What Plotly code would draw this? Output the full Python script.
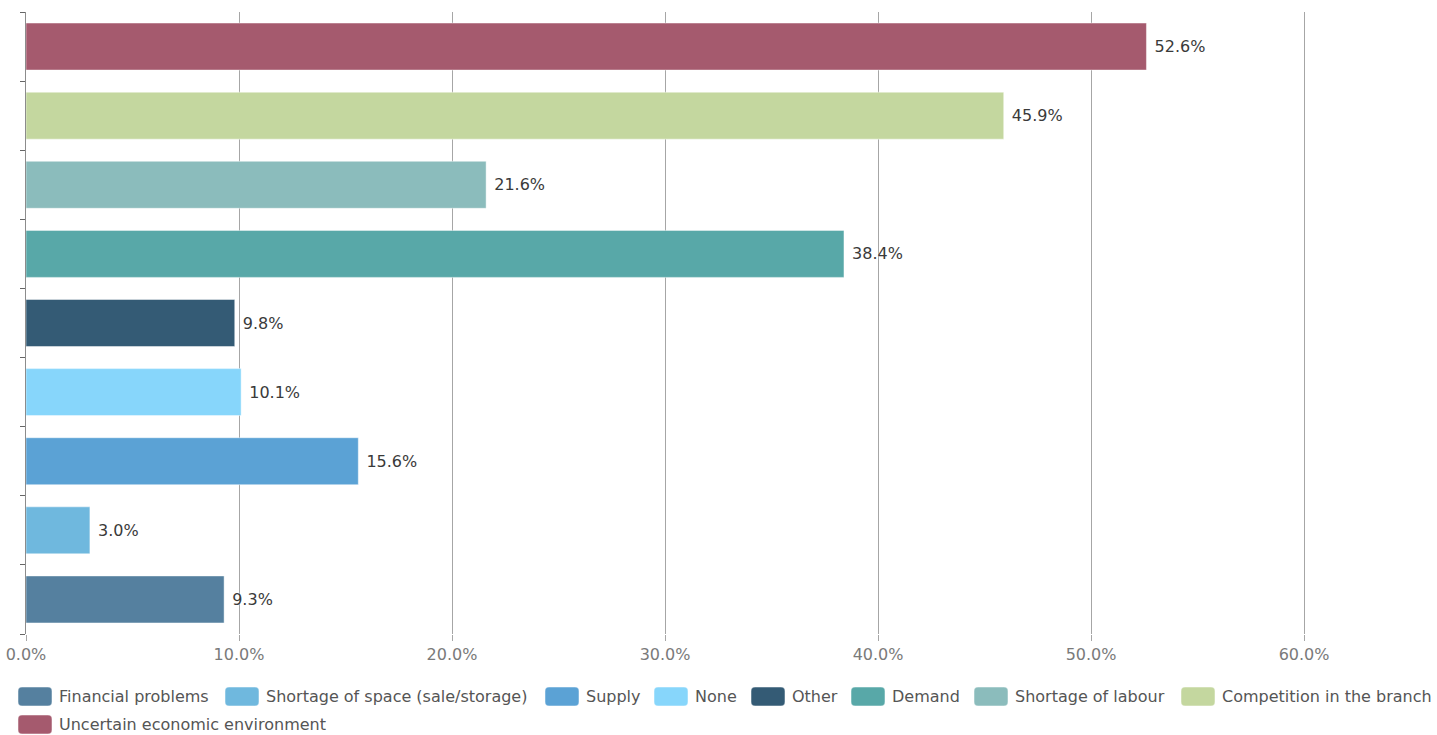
import plotly.graph_objects as go

# Obstacles reported, listed from the bottom bar upwards
categories = [
    "Financial problems",
    "Shortage of space (sale/storage)",
    "Supply",
    "None",
    "Other",
    "Demand",
    "Shortage of labour",
    "Competition in the branch",
    "Uncertain economic environment",
]
shares = [9.3, 3.0, 15.6, 10.1, 9.8, 38.4, 21.6, 45.9, 52.6]
colors = [
    "#55809f", "#6fb8de", "#5ba2d5", "#87d6fb", "#345b75",
    "#58a8a8", "#8bbcbc", "#c4d79f", "#a55a6e",
]
x_ticks = [0, 10, 20, 30, 40, 50, 60]

FONT = "DejaVu Sans"
W, H = 1437, 735
M_L, M_R, M_T, M_B = 26, 0, 12, 101
PLOT_W = W - M_L - M_R
PLOT_H = H - M_T - M_B

# Legend layout (pixel positions of each swatch: left edge, row)
legend_left = [18, 225, 545, 654, 751, 851, 974, 1181, 18]
legend_row = [0, 0, 0, 0, 0, 0, 0, 0, 1]
ROW_Y = [696.5, 724.5]
SW_W, SW_H, SW_R = 34, 19, 4


def to_paper(px, py):
    return (px - M_L) / PLOT_W, (H - M_B - py) / PLOT_H


def rounded_rect(x0, y0, w, h, r):
    pts = []
    def p(x, y):
        a, b = to_paper(x, y)
        return f"{a:.6f},{b:.6f}"
    x1, y1 = x0 + w, y0 + h
    pts.append(f"M{p(x0 + r, y0)}")
    pts.append(f"L{p(x1 - r, y0)}")
    pts.append(f"Q{p(x1, y0)} {p(x1, y0 + r)}")
    pts.append(f"L{p(x1, y1 - r)}")
    pts.append(f"Q{p(x1, y1)} {p(x1 - r, y1)}")
    pts.append(f"L{p(x0 + r, y1)}")
    pts.append(f"Q{p(x0, y1)} {p(x0, y1 - r)}")
    pts.append(f"L{p(x0, y0 + r)}")
    pts.append(f"Q{p(x0, y0)} {p(x0 + r, y0)}")
    return " ".join(pts) + " Z"


fig = go.Figure()
for name, val, col in zip(categories, shares, colors):
    fig.add_trace(go.Bar(
        name=name,
        y=[name],
        x=[val],
        orientation="h",
        marker=dict(color=col, line=dict(color="rgba(255,255,255,0.45)", width=1)),
        texttemplate="\u00a0%{x:.1f}%",
        textposition="outside",
        textfont=dict(family=FONT, size=16, color="#3a3a3a", shadow="0px 0px 2px white"),
        cliponaxis=False,
        showlegend=False,
        hovertemplate="%{y}: %{x:.1f}%<extra></extra>",
    ))

# Legend: rounded swatches with labels underneath the chart
shapes = []
annotations = []
for name, col, lx, row in zip(categories, colors, legend_left, legend_row):
    cy = ROW_Y[row]
    shapes.append(dict(
        type="path",
        xref="paper", yref="paper",
        path=rounded_rect(lx, cy - SW_H / 2, SW_W, SW_H, SW_R),
        fillcolor=col,
        line=dict(color="rgba(255,255,255,0.5)", width=1),
        layer="above",
    ))
    tx, ty = to_paper(lx + SW_W + 5, cy)
    annotations.append(dict(
        xref="paper", yref="paper",
        x=tx, y=ty,
        xanchor="left", yanchor="middle",
        text=name,
        showarrow=False,
        font=dict(family=FONT, size=16, color="#555555"),
    ))

fig.update_layout(
    width=W,
    height=H,
    margin=dict(l=M_L, r=M_R, t=M_T, b=M_B, autoexpand=False),
    paper_bgcolor="white",
    plot_bgcolor="white",
    barmode="overlay",
    bargap=0.32,
    font=dict(family=FONT, size=16, color="#555555"),
    showlegend=False,
    shapes=shapes,
    annotations=annotations,
)

fig.update_xaxes(
    range=[0, 66.24],
    tickvals=x_ticks,
    ticktext=[f"{v:.1f}%" for v in x_ticks],
    showgrid=True,
    gridcolor="#a6a6a6",
    gridwidth=1,
    zeroline=False,
    showline=False,
    ticks="outside",
    ticklen=6,
    tickcolor="#a6a6a6",
    tickfont=dict(family=FONT, size=16, color="#7a7a7a"),
    automargin=False,
)

fig.update_yaxes(
    categoryorder="array",
    categoryarray=categories,
    showticklabels=False,
    showgrid=False,
    showline=True,
    linecolor="#8c8c8c",
    linewidth=1,
    ticks="outside",
    tickson="boundaries",
    ticklen=5,
    tickcolor="#666666",
    automargin=False,
)

fig.write_html("out.html")
